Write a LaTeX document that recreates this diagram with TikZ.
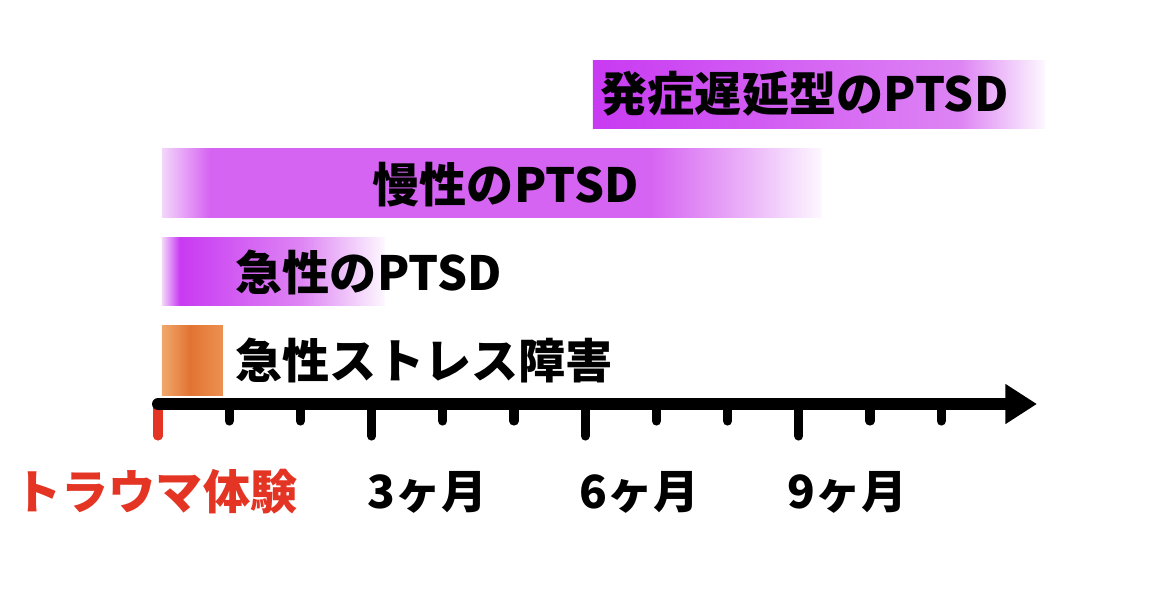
\documentclass[tikz,border=0pt]{standalone}
\usepackage{fontspec}
\usepackage{tikz}
\usetikzlibrary{arrows.meta}
\newfontfamily\jp{Noto Sans CJK JP}

\definecolor{ptsdstrong}{RGB}{200,58,242}
\definecolor{ptsdmid}{RGB}{214,100,242}
\definecolor{ptsdlight}{RGB}{222,132,244}
\definecolor{ptsdfade}{RGB}{234,176,248}
\definecolor{ptsdpale}{RGB}{243,214,250}
\definecolor{fadewhite}{RGB}{253,248,255}
\definecolor{asdorange}{RGB}{226,115,50}
\definecolor{asdlight}{RGB}{240,168,108}
\definecolor{asdright}{RGB}{236,145,82}
\definecolor{traumared}{RGB}{227,52,36}

% 25bp = left edge of the bar, 75bp = right edge
\pgfdeclarehorizontalshading{acuteshade}{100bp}{color(0bp)=(ptsdpale); color(25bp)=(ptsdpale);
  color(29bp)=(ptsdstrong); color(56bp)=(ptsdlight); color(75bp)=(fadewhite); color(100bp)=(fadewhite)}
\pgfdeclarehorizontalshading{chronicshade}{100bp}{color(0bp)=(ptsdpale); color(25bp)=(ptsdpale);
  color(28.6bp)=(ptsdmid); color(62bp)=(ptsdmid); color(69bp)=(ptsdfade); color(75bp)=(fadewhite); color(100bp)=(fadewhite)}
\pgfdeclarehorizontalshading{delayshade}{100bp}{color(0bp)=(ptsdstrong); color(25bp)=(ptsdstrong);
  color(65.6bp)=(ptsdlight); color(75bp)=(fadewhite); color(100bp)=(fadewhite)}
\pgfdeclarehorizontalshading{asdshade}{100bp}{color(0bp)=(asdlight); color(25bp)=(asdlight);
  color(48bp)=(asdorange); color(75bp)=(asdright); color(100bp)=(asdright)}

\begin{document}
\begin{tikzpicture}[x=0.01cm, y=-0.01cm,
                    lbl/.style={inner sep=0pt, anchor=west, font=\jp\bfseries\fontsize{13.4}{15}\selectfont},
                    month/.style={inner sep=0pt, anchor=west, font=\jp\bfseries\fontsize{13}{15}\selectfont},
                    axis/.style={line width=3.4pt, line cap=round, -{Triangle[length=9pt, width=10.8pt]}},
                    tick/.style={line width=2.6pt, line cap=round}]

   \useasboundingbox (0,0) rectangle (1162,602);

   % bars
   \shade[shading=delayshade] (593,60) rectangle (1045,128);
   \shade[shading=chronicshade] (162,148) rectangle (822,217);
   \shade[shading=acuteshade] (162,237) rectangle (385,305);
   \shade[shading=asdshade] (162,325) rectangle (223,395);

   \node[lbl] (delay) at (600,94) {発症遅延型のPTSD};
   \node[lbl] (chronic) at (372,185) {慢性のPTSD};
   \node[lbl] (acute) at (235,272) {急性のPTSD};
   \node[lbl] (asd) at (235,360) {急性ストレス障害};

   % time axis
   \coordinate (o) at (158,404);
   \coordinate (tip) at (1037,404);
   \draw[tick, traumared] (o) -- ++(0,32);
   \draw[axis] (o) -- (tip);
   \foreach \i in {1,2,4,5,7,8,10,11}
      \draw[tick] (158+71.2*\i,404) -- ++(0,17);
   \foreach \i in {3,6,9}
      \draw[tick] (158+71.2*\i,404) -- ++(0,32);

   \node[lbl, anchor=center, text=traumared] (trauma) at (156,492) {トラウマ体験};
   \node[month] (m3) at (367,492) {3ヶ月};
   \node[month] (m6) at (579,492) {6ヶ月};
   \node[month] (m9) at (787,492) {9ヶ月};

\end{tikzpicture}
\end{document}
